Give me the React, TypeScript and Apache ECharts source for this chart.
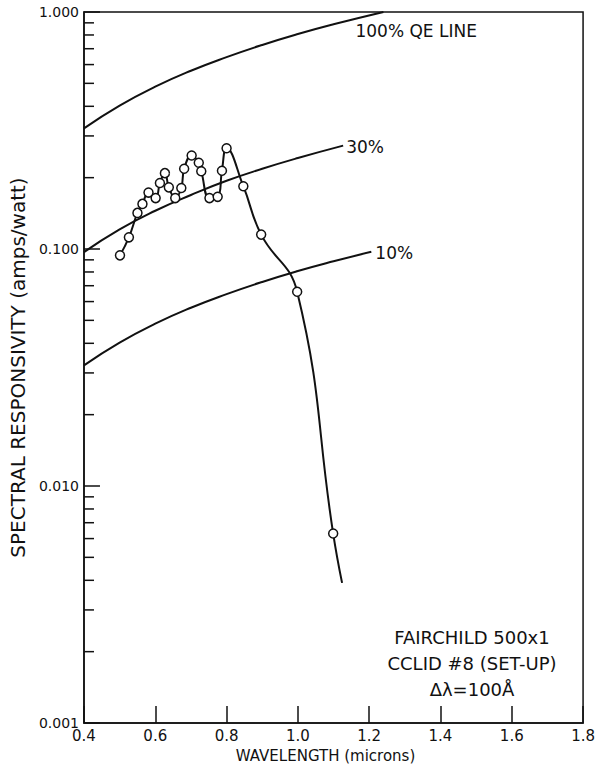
import React, { useEffect, useRef } from "react";
import * as echarts from "echarts";

// Measured spectral responsivity of the device (wavelength in microns, A/W).
const WAVELENGTH = [
  0.501, 0.526, 0.55, 0.564, 0.581, 0.601, 0.613, 0.627, 0.638, 0.656, 0.673,
  0.681, 0.702, 0.722, 0.729, 0.752, 0.775, 0.787, 0.8, 0.847, 0.897, 0.998,
  1.099,
];
const RESPONSIVITY = [
  0.094, 0.112, 0.142, 0.155, 0.173, 0.164, 0.19, 0.209, 0.182, 0.164, 0.181,
  0.218, 0.248, 0.231, 0.213, 0.164, 0.166, 0.214, 0.266, 0.184, 0.115, 0.066,
  0.0063,
];
// Where the drawn trace stops (no measured marker there).
const TRACE_END = [1.124, 0.0039];

// Constant quantum-efficiency reference curves.
const QE100_WL = [0.4, 0.5, 0.6, 0.7, 0.8, 0.9, 1.0, 1.1, 1.24];
const QE100_R = [0.323, 0.403, 0.484, 0.565, 0.645, 0.726, 0.807, 0.887, 1.0];
const QE30_WL = [0.4, 0.5, 0.6, 0.7, 0.8, 0.9, 1.0, 1.127];
const QE30_R = [0.097, 0.121, 0.145, 0.169, 0.194, 0.218, 0.242, 0.273];
const QE10_WL = [0.4, 0.5, 0.6, 0.7, 0.8, 0.9, 1.0, 1.1, 1.206];
const QE10_R = [0.0323, 0.0403, 0.0484, 0.0565, 0.0645, 0.0726, 0.0807, 0.0887, 0.0973];

// Minor tick values on the logarithmic responsivity axis.
const MINOR_TICKS = [
  0.2, 0.3, 0.4, 0.5, 0.6, 0.7, 0.8, 0.9,
  0.02, 0.03, 0.04, 0.05, 0.06, 0.07, 0.08, 0.09,
  0.002, 0.003, 0.004, 0.005, 0.006, 0.007, 0.008, 0.009,
];

const NOTE_LINES = ["FAIRCHILD 500x1", "CCLID #8 (SET-UP)", "\u0394\u03bb=100\u00c5"];

const FONT = "DejaVu Sans";
const INK = "#111";

function pairs(xs: number[], ys: number[]) {
  return xs.map((x, i) => [x, ys[i]]);
}

function qeLine(xs: number[], ys: number[], label: string, offset: number[]) {
  return {
    type: "line",
    data: pairs(xs, ys),
    smooth: true,
    symbol: "none",
    lineStyle: { color: INK, width: 2 },
    endLabel: {
      show: true,
      formatter: label,
      color: INK,
      fontFamily: FONT,
      fontSize: 17,
      distance: 3,
      offset,
    },
    silent: true,
    z: 2,
  };
}

export default function App() {
  const ref = useRef<HTMLDivElement>(null);

  useEffect(() => {
    if (!ref.current) return;
    const prevMargin = document.body.style.margin;
    document.body.style.margin = "0";
    const chart = echarts.init(ref.current, null, { renderer: "svg" });

    const measured: any[] = WAVELENGTH.map((x, i) => [x, RESPONSIVITY[i]]);
    measured.push({ value: TRACE_END, symbol: "none" });

    chart.setOption({
      animation: false,
      backgroundColor: "#fff",
      grid: {
        left: 80,
        right: 11,
        top: 12,
        bottom: 40,
        show: true,
        borderColor: INK,
        borderWidth: 1.5,
      },
      xAxis: {
        type: "value",
        min: 0.4,
        max: 1.8,
        interval: 0.2,
        name: "WAVELENGTH (microns)",
        nameLocation: "middle",
        nameGap: 25,
        nameTextStyle: {
          fontFamily: FONT,
          fontSize: 15,
          color: INK,
          padding: [0, 16, 0, 0],
        },
        axisLine: { lineStyle: { color: INK, width: 1.5 } },
        axisTick: { inside: true, length: 17, lineStyle: { color: INK, width: 1.5 } },
        axisLabel: {
          formatter: (v: number) => v.toFixed(1),
          fontFamily: FONT,
          fontSize: 15,
          color: INK,
          margin: 5,
          showMinLabel: true,
          showMaxLabel: true,
        },
        splitLine: { show: false },
      },
      yAxis: {
        type: "log",
        logBase: 10,
        min: 0.001,
        max: 1,
        splitNumber: 3,
        name: "SPECTRAL RESPONSIVITY (amps/watt)",
        nameLocation: "middle",
        nameRotate: 90,
        nameGap: 52,
        nameTextStyle: { fontFamily: FONT, fontSize: 20, color: INK },
        axisLine: { lineStyle: { color: INK, width: 1.5 } },
        axisTick: { inside: true, length: 16, lineStyle: { color: INK, width: 1.5 } },
        axisLabel: {
          formatter: (v: number) => v.toFixed(3),
          fontFamily: FONT,
          fontSize: 14,
          color: INK,
          margin: 5,
          showMinLabel: true,
          showMaxLabel: true,
        },
        splitLine: { show: false },
      },
      series: [
        {
          type: "custom",
          data: MINOR_TICKS.map((v) => [0.4, v]),
          encode: { x: 0, y: 1 },
          silent: true,
          renderItem: (_params: any, api: any) => {
            const p = api.coord([api.value(0), api.value(1)]);
            return {
              type: "line",
              shape: { x1: p[0], y1: p[1], x2: p[0] + 10, y2: p[1] },
              style: { stroke: INK, lineWidth: 1.5 },
            };
          },
        },
        qeLine(QE100_WL, QE100_R, "100% QE LINE", [-31, 19]),
        qeLine(QE30_WL, QE30_R, "30%", [0, 1]),
        qeLine(QE10_WL, QE10_R, "10%", [1, 1]),
        {
          type: "line",
          data: measured,
          smooth: 0.45,
          symbol: "circle",
          symbolSize: 9,
          showAllSymbol: true,
          lineStyle: { color: INK, width: 2 },
          itemStyle: { color: "#fff", borderColor: INK, borderWidth: 1.5 },
          z: 3,
        },
      ],
      graphic: NOTE_LINES.map((t, i) => ({
        type: "text",
        x: 472,
        y: 637 + i * 26,
        style: {
          text: t,
          fill: INK,
          font: `18px "${FONT}"`,
          textAlign: "center",
          textVerticalAlign: "middle",
        },
      })),
    });

    return () => {
      chart.dispose();
      document.body.style.margin = prevMargin;
    };
  }, []);

  return <div ref={ref} style={{ width: 598, height: 768 }} />;
}
